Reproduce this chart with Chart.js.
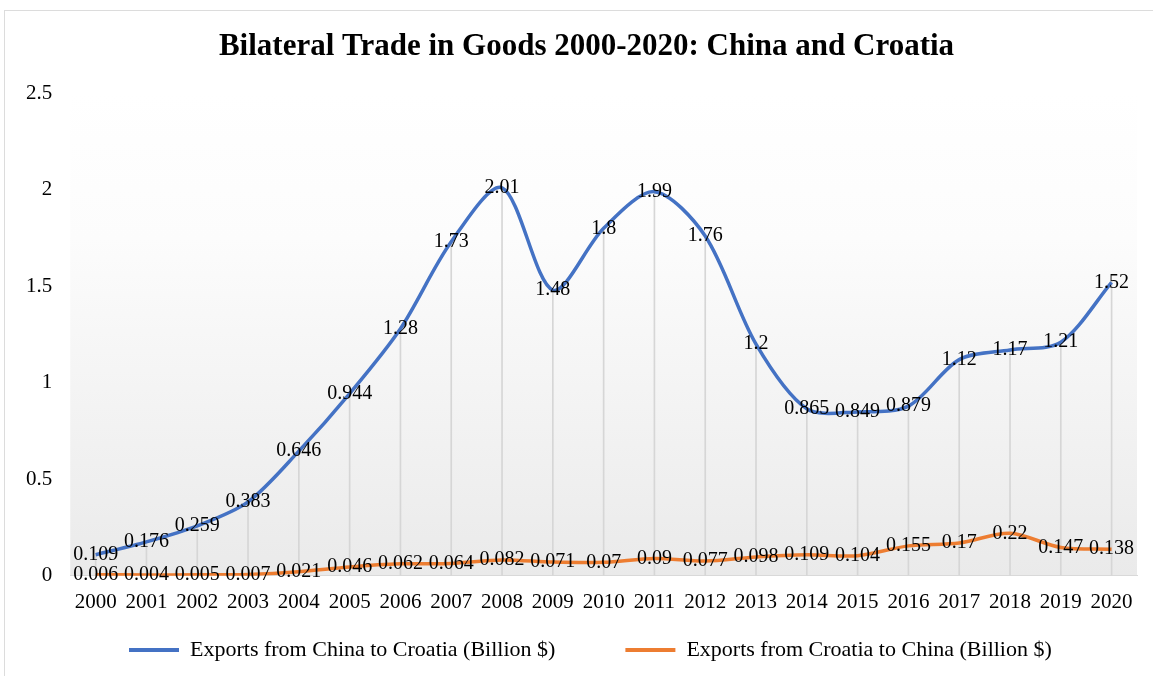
<!DOCTYPE html>
<html lang="en">
<head>
  <meta charset="UTF-8">
  <title>Bilateral Trade in Goods 2000-2020</title>
  <script src="https://cdn.jsdelivr.net/npm/chart.js@4.4.1/dist/chart.umd.min.js"></script>
  <style>
    body { margin: 0; background: #fff; }
    .wrap { position: absolute; left: 0; top: 0; width: 1153px; height: 676px; }
    .frame { position: absolute; left: 4px; top: 10px; width: 1160px; height: 680px; border: 1px solid #dcdcdc; pointer-events: none; }
  </style>
</head>
<body>
  <div class="wrap"><canvas id="chart"></canvas></div>
  <div class="frame"></div>

  <script>
    // values
    const years = ['2000','2001','2002','2003','2004','2005','2006','2007','2008','2009','2010',
                   '2011','2012','2013','2014','2015','2016','2017','2018','2019','2020'];
    const chinaToCroatia = [0.109, 0.176, 0.259, 0.383, 0.646, 0.944, 1.28, 1.73, 2.01, 1.48, 1.8,
                            1.99, 1.76, 1.2, 0.865, 0.849, 0.879, 1.12, 1.17, 1.21, 1.52];
    const croatiaToChina = [0.006, 0.004, 0.005, 0.007, 0.021, 0.046, 0.062, 0.064, 0.082, 0.071, 0.07,
                            0.09, 0.077, 0.098, 0.109, 0.104, 0.155, 0.17, 0.22, 0.147, 0.138];
    const yTicks = [0, 0.5, 1, 1.5, 2, 2.5];

    const serif = '"Liberation Serif", "Times New Roman", serif';

    // plot area gradient + white page
    const background = {
      id: 'background',
      beforeDraw(chart) {
        const { ctx, chartArea: a } = chart;
        ctx.save();
        ctx.fillStyle = '#fff';
        ctx.fillRect(0, 0, chart.width, chart.height);
        const g = ctx.createLinearGradient(0, a.top, 0, a.bottom);
        g.addColorStop(0, '#ffffff');
        g.addColorStop(0.3, '#fcfcfc');
        g.addColorStop(1, '#eaeaea');
        ctx.fillStyle = g;
        ctx.fillRect(a.left, a.top, a.right - a.left, a.bottom - a.top);
        ctx.restore();
      }
    };

    // value labels centred on each point
    const valueLabels = {
      id: 'valueLabels',
      afterDatasetsDraw(chart) {
        const ctx = chart.ctx;
        ctx.save();
        ctx.font = '20px ' + serif;
        ctx.fillStyle = '#000';
        ctx.textAlign = 'center';
        ctx.textBaseline = 'middle';
        chart.data.datasets.forEach((ds, i) => {
          if (ds.type !== 'line') return;
          chart.getDatasetMeta(i).data.forEach((pt, j) => {
            ctx.fillText(String(ds.data[j]), pt.x, pt.y);
          });
        });
        ctx.restore();
      }
    };

    // nudge title and legend boxes (they draw no background)
    const boxShift = {
      id: 'boxShift',
      afterLayout(chart) {
        chart.titleBlock.left += 28;
        chart.legend.left = 59;
        chart.legend.top = 569;
      }
    };

    new Chart(document.getElementById('chart'), {
      data: {
        labels: years,
        datasets: [
          {
            type: 'line',
            label: 'Exports from China to Croatia (Billion $)',
            data: chinaToCroatia,
            borderColor: '#4472C4',
            backgroundColor: '#4472C4',
            borderWidth: 3.5,
            pointRadius: 0,
            tension: 0.3,
            order: 1
          },
          {
            type: 'line',
            label: 'Exports from Croatia to China (Billion $)',
            data: croatiaToChina,
            borderColor: '#ED7D31',
            backgroundColor: '#ED7D31',
            borderWidth: 3.5,
            pointRadius: 0,
            tension: 0.3,
            order: 2
          },
          {
            // drop lines under the blue series
            type: 'bar',
            label: 'drop',
            data: chinaToCroatia,
            backgroundColor: '#d6d6d6',
            barThickness: 1,
            order: 3
          }
        ]
      },
      options: {
        responsive: true,
        maintainAspectRatio: false,
        animation: false,
        layout: { padding: { left: 8, right: 16, top: 0, bottom: 5 } },
        plugins: {
          title: {
            display: true,
            text: 'Bilateral Trade in Goods 2000-2020: China and Croatia',
            color: '#000',
            font: { family: serif, size: 31, weight: 'bold' },
            padding: { top: 28, bottom: 28 }
          },
          legend: {
            position: 'bottom',
            align: 'start',
            maxHeight: 42,
            labels: {
              color: '#000',
              font: { family: serif, size: 22 },
              boxWidth: 50,
              boxHeight: 4,
              padding: 70,
              filter: item => item.text !== 'drop',
              generateLabels(chart) {
                return Chart.defaults.plugins.legend.labels.generateLabels(chart).map(l => {
                  l.lineWidth = 0;
                  return l;
                });
              }
            }
          },
          tooltip: { enabled: false }
        },
        scales: {
          x: {
            offset: true,
            grid: { display: false, drawTicks: false },
            border: { display: true, color: '#d9d9d9' },
            ticks: {
              color: '#000',
              font: { family: serif, size: 21 },
              padding: 14,
              autoSkip: false,
              maxRotation: 0
            }
          },
          y: {
            min: 0,
            max: 2.5,
            afterBuildTicks(scale) { scale.ticks = yTicks.map(v => ({ value: v })); },
            grid: { display: false, drawTicks: false },
            border: { display: false },
            ticks: {
              color: '#000',
              font: { family: serif, size: 21 },
              padding: 18,
              callback: v => String(v)
            }
          }
        }
      },
      plugins: [background, valueLabels, boxShift]
    });
  </script>
</body>
</html>
